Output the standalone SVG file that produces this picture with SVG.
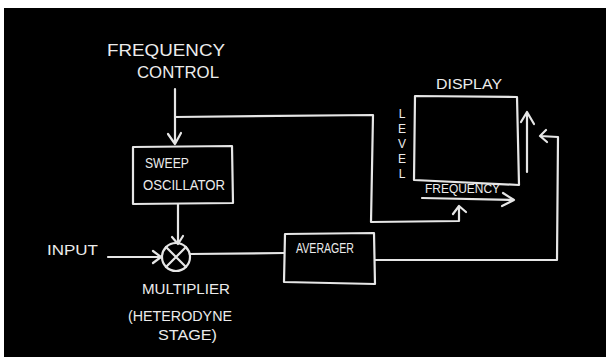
<svg xmlns="http://www.w3.org/2000/svg" width="606" height="357" viewBox="0 0 606 357">
<defs>
<style>
.ln{fill:none;stroke:#e6e6e6;stroke-width:2.2;stroke-linecap:round;stroke-linejoin:round}
.tx{fill:#ececec;font-family:"Liberation Sans","DejaVu Sans",sans-serif;font-size:15px}
.lg{font-size:16px}
.vt{font-size:12px;writing-mode:vertical-rl;text-orientation:upright;letter-spacing:1px}
</style>
</defs>
<rect x="0" y="0" width="606" height="357" fill="#ffffff"/>
<rect x="4" y="8" width="602" height="349" fill="#000000"/>

<g id="freq-control">
<text class="tx lg" x="107" y="56" textLength="118" lengthAdjust="spacingAndGlyphs">FREQUENCY</text>
<text class="tx lg" x="137" y="78" textLength="82" lengthAdjust="spacingAndGlyphs">CONTROL</text>
</g>

<g id="sweep-oscillator">
<path class="ln" d="M133,147 L232,146 L233,203 L133,204 Z"/>
<text class="tx" x="145" y="168" textLength="44" lengthAdjust="spacingAndGlyphs">SWEEP</text>
<text class="tx" x="143" y="190" textLength="82" lengthAdjust="spacingAndGlyphs">OSCILLATOR</text>
</g>

<g id="multiplier">
<circle class="ln" cx="176" cy="257" r="14"/>
<path class="ln" d="M166,247 L186,267 M186,247 L166,267"/>
<text class="tx" x="142" y="294" textLength="88" lengthAdjust="spacingAndGlyphs">MULTIPLIER</text>
<text class="tx" x="128" y="321" textLength="104" lengthAdjust="spacingAndGlyphs">(HETERODYNE</text>
<text class="tx" x="158" y="340" textLength="59" lengthAdjust="spacingAndGlyphs">STAGE)</text>
</g>

<g id="input">
<text class="tx" x="47" y="255" textLength="51" lengthAdjust="spacingAndGlyphs">INPUT</text>
</g>

<g id="averager">
<path class="ln" d="M285,234 L374,233 L375,284 L284,282 Z"/>
<text class="tx" x="296" y="253" textLength="58" lengthAdjust="spacingAndGlyphs">AVERAGER</text>
</g>

<g id="display">
<path class="ln" d="M415,96 L517,97 L519,185 L414,180 Z"/>
<text class="tx" x="436" y="89" textLength="66" lengthAdjust="spacingAndGlyphs">DISPLAY</text>
<text class="tx vt" x="402" y="107">LEVEL</text>
<text class="tx" style="font-size:13px" x="425" y="193" textLength="75" lengthAdjust="spacingAndGlyphs">FREQUENCY</text>
<path class="ln" d="M422,198 L514,200 M503,193 L514,200 L502,206"/>
<path class="ln" d="M527,172 L527,112 M521,122 L527,112 L534,124"/>
</g>

<g id="connectors">
<path class="ln" d="M175,89 L175,144 M168,134 L175,144 L181,133"/>
<path class="ln" d="M175,117 L373,115 L371,222 L459,221 L459,206 M453,214 L459,206 L466,212"/>
<path class="ln" d="M178,204 L178,243 M172,237 L178,244 L183,236"/>
<path class="ln" d="M108,257 L160,257 M153,251 L161,257 L153,263"/>
<path class="ln" d="M190,254 L284,253"/>
<path class="ln" d="M375,260 L557,260 L558,137 L540,136 M546,130 L540,136 L547,142"/>
</g>
</svg>
